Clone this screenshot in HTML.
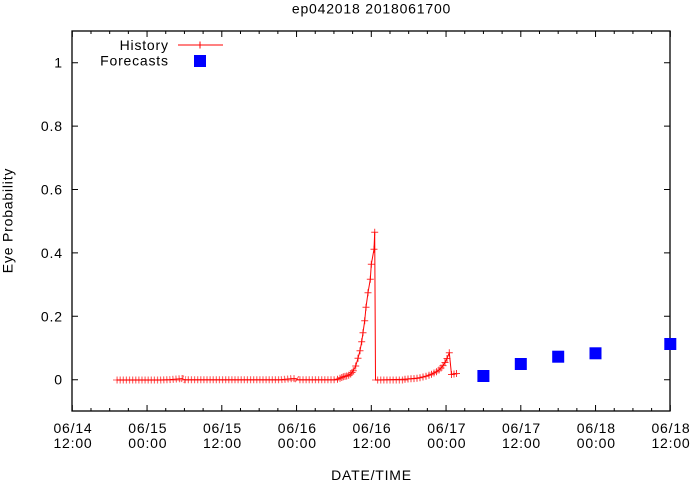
<!DOCTYPE html>
<html>
<head>
<meta charset="utf-8">
<style>
html,body{margin:0;padding:0;background:#fff;}
svg{display:block;}
text{font-family:"Liberation Sans",Arial,sans-serif;font-size:14px;fill:#000;letter-spacing:0.8px;}
</style>
</head>
<body>
<svg width="690" height="482" viewBox="0 0 690 482" xmlns="http://www.w3.org/2000/svg">
<rect x="0" y="0" width="690" height="482" fill="#fff"/>
<text x="371.5" y="13.5" text-anchor="middle">ep042018 2018061700</text>
<rect x="72" y="31" width="598" height="380" fill="none" stroke="#000" stroke-width="1.3"/>
<path stroke="#000" stroke-width="1" fill="none" d="M72.3,411v-6M72.3,31v6M90.99,411v-3M90.99,31v3M109.68,411v-3M109.68,31v3M128.36,411v-3M128.36,31v3M147.05,411v-6M147.05,31v6M165.74,411v-3M165.74,31v3M184.43,411v-3M184.43,31v3M203.11,411v-3M203.11,31v3M221.8,411v-6M221.8,31v6M240.49,411v-3M240.49,31v3M259.18,411v-3M259.18,31v3M277.86,411v-3M277.86,31v3M296.55,411v-6M296.55,31v6M315.24,411v-3M315.24,31v3M333.93,411v-3M333.93,31v3M352.61,411v-3M352.61,31v3M371.3,411v-6M371.3,31v6M389.99,411v-3M389.99,31v3M408.68,411v-3M408.68,31v3M427.36,411v-3M427.36,31v3M446.05,411v-6M446.05,31v6M464.74,411v-3M464.74,31v3M483.43,411v-3M483.43,31v3M502.11,411v-3M502.11,31v3M520.8,411v-6M520.8,31v6M539.49,411v-3M539.49,31v3M558.18,411v-3M558.18,31v3M576.86,411v-3M576.86,31v3M595.55,411v-6M595.55,31v6M614.24,411v-3M614.24,31v3M632.93,411v-3M632.93,31v3M651.61,411v-3M651.61,31v3M670.3,411v-6M670.3,31v6"/>
<path stroke="#000" stroke-width="1" fill="none" d="M72,379.7h6M670,379.7h-6M72,316.3h6M670,316.3h-6M72,252.9h6M670,252.9h-6M72,189.5h6M670,189.5h-6M72,126.1h6M670,126.1h-6M72,62.7h6M670,62.7h-6"/>
<g text-anchor="end">
<text x="62.8" y="384.7">0</text>
<text x="62.8" y="321.3">0.2</text>
<text x="62.8" y="257.9">0.4</text>
<text x="62.8" y="194.5">0.6</text>
<text x="62.8" y="131.1">0.8</text>
<text x="62.8" y="67.7">1</text>
</g>
<g text-anchor="middle">
<text x="73" y="433">06/14</text><text x="73" y="448">12:00</text>
<text x="147.8" y="433">06/15</text><text x="147.8" y="448">00:00</text>
<text x="222.5" y="433">06/15</text><text x="222.5" y="448">12:00</text>
<text x="297.3" y="433">06/16</text><text x="297.3" y="448">00:00</text>
<text x="372" y="433">06/16</text><text x="372" y="448">12:00</text>
<text x="446.8" y="433">06/17</text><text x="446.8" y="448">00:00</text>
<text x="521.5" y="433">06/17</text><text x="521.5" y="448">12:00</text>
<text x="596.3" y="433">06/18</text><text x="596.3" y="448">00:00</text>
<text x="671" y="433">06/18</text><text x="671" y="448">12:00</text>
</g>
<text x="371.5" y="480" text-anchor="middle">DATE/TIME</text>
<text transform="translate(12.5,220.5) rotate(-90)" x="0" y="0" text-anchor="middle">Eye Probability</text>
<text x="168.8" y="50" text-anchor="end">History</text>
<text x="168.8" y="65.7" text-anchor="end">Forecasts</text>
<line x1="178" y1="45" x2="223" y2="45" stroke="#ff0000" stroke-width="1"/>
<path d="M196.5,45h7M200,41.5v7" stroke="#ff0000" stroke-width="1" fill="none"/>
<rect x="194" y="55" width="12" height="12" fill="#0000ff"/>
<line x1="113" y1="380" x2="339" y2="380" stroke="#ff0000" stroke-opacity="0.5" stroke-width="1.2"/>
<line x1="372" y1="380" x2="408" y2="380" stroke="#ff0000" stroke-opacity="0.5" stroke-width="1.2"/>
<polyline fill="none" stroke="#ff0000" stroke-opacity="0.6" stroke-width="7" stroke-dasharray="1.2 1.91" points="116.5,380 160,380 170,379.6 182,378.6 185,379.8 280,379.8 292,378.6 296,378.6 298,379.8 336,379.8"/>
<polyline fill="none" stroke="#ff0000" stroke-opacity="0.6" stroke-width="7" stroke-dasharray="1.2 1.91" points="377,380 404,380"/>
<path fill="none" stroke="#ff0000" stroke-opacity="0.8" stroke-width="1" d="M334,379.3h7M337.5,375.8v7M336.5,378.3h7M340,374.8v7M338.3,377.5h7M341.8,374v7M339.8,376.7h7M343.3,373.2v7M341.5,376.4h7M345,372.9v7M343.2,376h7M346.7,372.5v7M345.2,375.2h7M348.7,371.7v7M347.2,374h7M350.7,370.5v7M348.5,372.5h7M352,369v7M349.8,370.7h7M353.3,367.2v7M352.2,366h7M355.7,362.5v7M354.5,358.3h7M358,354.8v7M356.5,350.7h7M360,347.2v7M358.2,341.7h7M361.7,338.2v7M359.5,332.7h7M363,329.2v7M361.2,320.7h7M364.7,317.2v7M362.5,307.3h7M366,303.8v7M364.5,292.7h7M368,289.2v7M366.8,279.3h7M370.3,275.8v7M367.8,264.3h7M371.3,260.8v7M370.5,249.3h7M374,245.8v7M371.2,232.3h7M374.7,228.8v7M401.5,379.2h7M405,375.7v7M404.5,379h7M408,375.5v7M407.5,378.8h7M411,375.3v7M410.5,378.6h7M414,375.1v7M413.5,378.2h7M417,374.7v7M416.5,377.7h7M420,374.2v7M419.5,377h7M423,373.5v7M422.5,376.2h7M426,372.7v7M425.5,375.3h7M429,371.8v7M428,374.2h7M431.5,370.7v7M430.5,373h7M434,369.5v7M433,371.7h7M436.5,368.2v7M435.5,370h7M439,366.5v7M437.5,368h7M441,364.5v7M439.5,365.6h7M443,362.1v7M441.5,362.5h7M445,359v7M443.5,358.5h7M447,355v7M445.8,352.7h7M449.3,349.2v7M448,374.5h7M451.5,371v7M450.5,374h7M454,370.5v7M453,373.5h7M456.5,370v7"/>
<polyline fill="none" stroke="#ff0000" stroke-width="1" stroke-linejoin="round" points="116.5,380 160,380 170,379.6 182,378.6 185,379.8 280,379.8 292,378.6 296,378.6 298,379.8 335,379.8 337.5,379.3 340,378.3 343.3,376.7 346.7,376 350.7,374 353.3,370.7 355.7,366 358,358.3 360,350.7 361.7,341.7 363,332.7 364.7,320.7 366,307.3 368,292.7 370.3,279.3 371.3,264.3 374,249.3 374.7,232.3 375.5,380 405,379.2 411,378.8 417,378.2 420,377.7 423,377 426,376.2 429,375.3 431.5,374.2 434,373 436.5,371.7 439,370 441,368 443,365.6 445,362.5 447,358.5 449.3,352.7 451.5,374.5 454,374 456.5,373.5"/>
<g fill="#0000ff">
<rect x="477.4" y="370" width="12" height="12"/>
<rect x="514.8" y="358" width="12" height="12"/>
<rect x="552.2" y="350.7" width="12" height="12"/>
<rect x="589.5" y="347.3" width="12" height="12"/>
<rect x="664.3" y="338" width="12" height="12"/>
</g>
</svg>
</body>
</html>
